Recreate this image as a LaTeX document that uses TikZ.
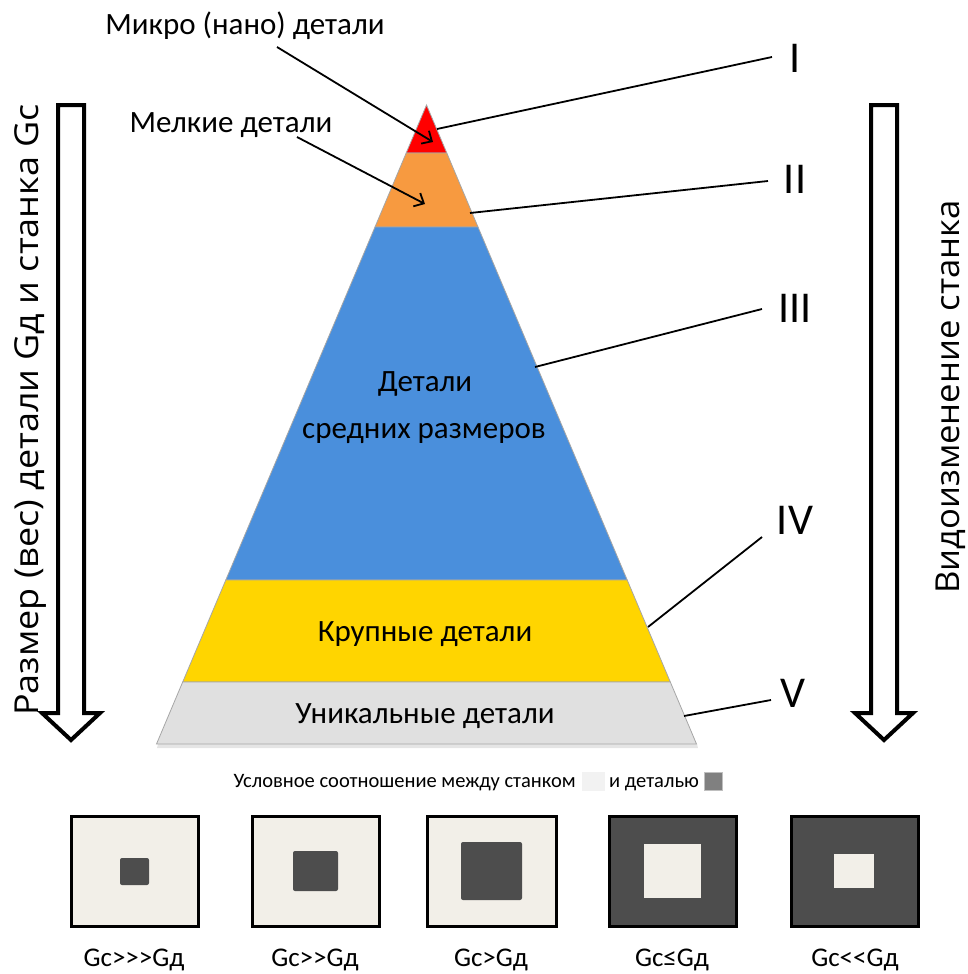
\documentclass[tikz,border=0pt]{standalone}
\usepackage{fontspec}
\setmainfont{Carlito}[Ligatures=TeXOff]
\newfontfamily\leftfont{Open Sans}[FakeStretch=1.09]
\newfontfamily\rightfont{Open Sans}[FakeStretch=1.05]
\usetikzlibrary{arrows.meta}

\definecolor{bandred}{HTML}{FF0000}
\definecolor{bandorange}{HTML}{F79A40}
\definecolor{bandblue}{HTML}{4A8FDC}
\definecolor{bandyellow}{HTML}{FFD500}
\definecolor{bandgrey}{HTML}{E0E0E0}
\definecolor{machine}{HTML}{F2EFE8}
\definecolor{part}{HTML}{4D4D4D}
\definecolor{keylight}{HTML}{F2F2F2}
\definecolor{keydark}{HTML}{808080}

\tikzset{
  band/.style={draw=gray!70, line width=0.8pt},
  leader/.style={draw=black, line width=1.8pt},
  pointer/.style={draw=black, line width=1.8pt, -{Straight Barb[length=8pt,width=15pt,line width=1.8pt]}},
  blockarrow/.style={draw=black, fill=white, line width=4pt, line join=miter},
  label/.style={font=\fontsize{31}{34}\selectfont, anchor=base, inner sep=0pt},
  numeral/.style={font=\fontsize{44}{48}\selectfont, anchor=base, inner sep=0pt},
  sidetext/.style={anchor=base, rotate=90, inner sep=0pt},
  keytext/.style={font=\fontsize{20.5}{24}\selectfont, anchor=base, inner sep=0pt},
  ratio/.style={font=\fontsize{27}{30}\selectfont, anchor=base, inner sep=0pt},
  outerbox/.style={draw=black, line width=3pt},
}

\begin{document}
\begin{tikzpicture}[x=1pt, y=-1pt]
\useasboundingbox (0,0) rectangle (967,974);

% soft shadow under the base of the pyramid
\fill[gray!20] (158,744) -- (697,744) -- (698,748) -- (157,748) -- cycle;

% pyramid bands, top to bottom
\path[band, fill=bandred]    (426.5,105) -- (446.8,153) -- (406.2,153) -- cycle;
\path[band, fill=bandorange] (406.2,153) -- (446.8,153) -- (478,227) -- (375,227) -- cycle;
\path[band, fill=bandblue]   (375,227) -- (478,227) -- (627.2,580) -- (225.8,580) -- cycle;
\path[band, fill=bandyellow] (225.8,580) -- (627.2,580) -- (670.3,682) -- (182.7,682) -- cycle;
\path[band, fill=bandgrey]   (182.7,682) -- (670.3,682) -- (696.5,744) -- (156.5,744) -- cycle;

% texts inside the bands
\node[label] (mid1) at (425,391) {Детали};
\node[label] (mid2) at (424,438) {средних размеров};
\node[label] (large) at (425,641) {Крупные детали};
\node[label] (unique) at (425,723) {Уникальные детали};

% texts above the pyramid with their pointers
\node[label] (micro) at (245,35) {Микро (нано) детали};
\node[label] (small) at (231,132) {Мелкие детали};
\coordinate (microfrom) at (277,47);
\coordinate (microto) at (433,142);
\coordinate (smallfrom) at (297,137);
\coordinate (smallto) at (425,204);
\draw[pointer] (microfrom) -- (microto);
\draw[pointer] (smallfrom) -- (smallto);

% class numerals and their leaders
\node[numeral] (n1) at (795,72) {I};
\node[numeral] (n2) at (795,193) {II};
\node[numeral] (n3) at (795,322) {III};
\node[numeral] (n4) at (795,534) {IV};
\node[numeral] (n5) at (793,707) {V};

\coordinate (e1) at (772,57);   \coordinate (p1) at (437,129);
\coordinate (e2) at (768,181);  \coordinate (p2) at (470,213);
\coordinate (e3) at (762,309);  \coordinate (p3) at (535,367);
\coordinate (e4) at (762,537);  \coordinate (p4) at (648,627);
\coordinate (e5) at (771,700);  \coordinate (p5) at (684,716);
\draw[leader] (e1) -- (p1);
\draw[leader] (e2) -- (p2);
\draw[leader] (e3) -- (p3);
\draw[leader] (e4) -- (p4);
\draw[leader] (e5) -- (p5);

% hollow block arrows on both sides
\draw[blockarrow] (58,105) -- (84,105) -- (84,713) -- (100,713) -- (71,740) -- (42,713) -- (58,713) -- cycle;
\draw[blockarrow] (871,105) -- (897,105) -- (897,713) -- (913,713) -- (884,740) -- (855,713) -- (871,713) -- cycle;

\node[sidetext, font=\leftfont\fontsize{33}{36}\selectfont] (leftaxis) at (38,410) {Размер (вес) детали Gд и станка Gс};
\node[sidetext, font=\rightfont\fontsize{33}{36}\selectfont] (rightaxis) at (959,397) {Видоизменение станка};

% key line
\node[keytext, anchor=base east] (keya) at (576,787) {Условное соотношение между станком};
\fill[keylight] (582,772) rectangle (605,791);
\node[keytext, anchor=base west] (keyb) at (609,787) {и деталью};
\fill[keydark, draw=gray!50, line width=0.6pt] (704,772) rectangle (722,790);

% machine / part proportion boxes
\filldraw[outerbox, fill=machine] (71,816) rectangle (198,926);
\fill[part, rounded corners=2pt] (120,858) rectangle (149,885);
\filldraw[outerbox, fill=machine] (252,816) rectangle (379,926);
\fill[part, rounded corners=2pt] (293,851) rectangle (338,891);
\filldraw[outerbox, fill=machine] (427,816) rectangle (556,926);
\fill[part, rounded corners=2pt] (461,842) rectangle (522,900);
\filldraw[outerbox, fill=part] (609,816) rectangle (736,926);
\fill[machine] (644,844) rectangle (701,898);
\filldraw[outerbox, fill=part] (791,816) rectangle (918,926);
\fill[machine] (834,854) rectangle (874,888);

\node[ratio] (r1) at (134,966) {Gс>>>Gд};
\node[ratio] (r2) at (315,966) {Gс>>Gд};
\node[ratio] (r3) at (491,966) {Gс>Gд};
\node[ratio] (r4) at (672,966) {Gс≤Gд};
\node[ratio] (r5) at (855,966) {Gс<<Gд};
\end{tikzpicture}
\end{document}
